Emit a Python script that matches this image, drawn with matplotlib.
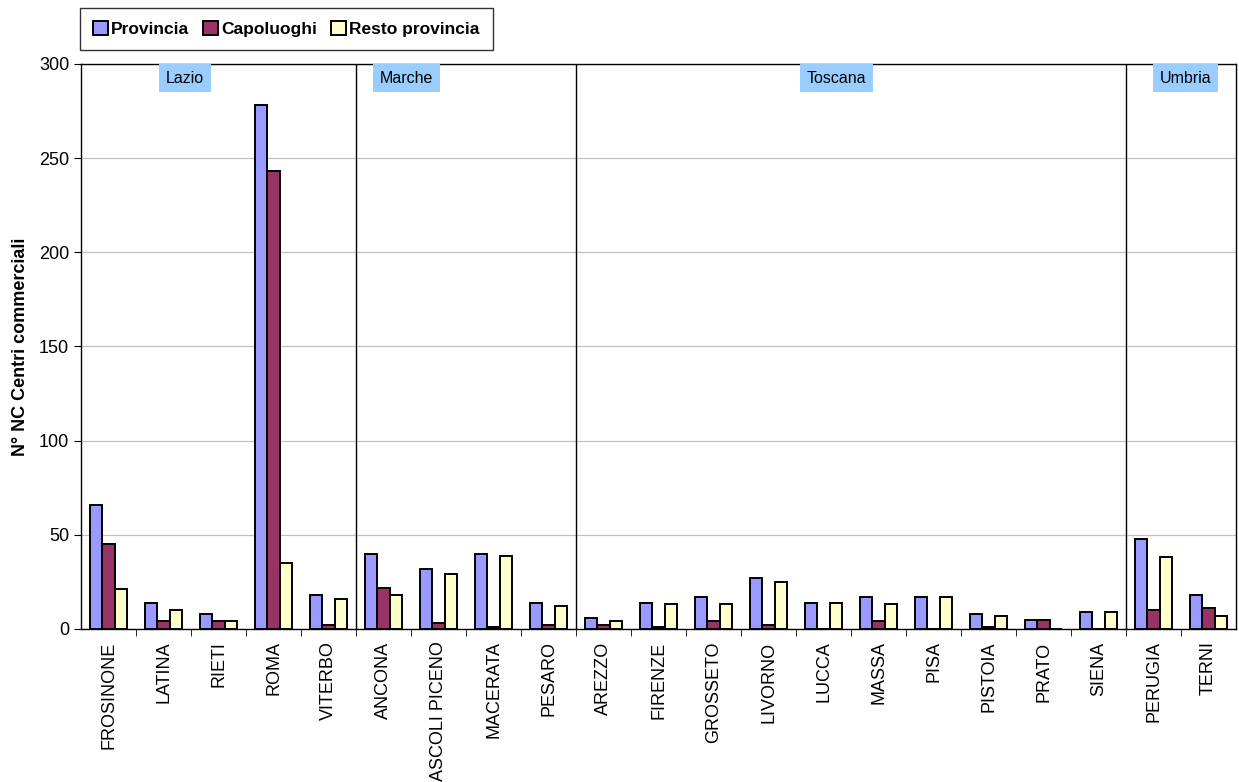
import matplotlib
matplotlib.use("Agg")
import matplotlib.pyplot as plt
import numpy as np
from matplotlib.patches import Patch

plt.rcParams["font.family"] = ["Liberation Sans", "DejaVu Sans"]

province = ["FROSINONE", "LATINA", "RIETI", "ROMA", "VITERBO",
            "ANCONA", "ASCOLI PICENO", "MACERATA", "PESARO",
            "AREZZO", "FIRENZE", "GROSSETO", "LIVORNO", "LUCCA", "MASSA",
            "PISA", "PISTOIA", "PRATO", "SIENA",
            "PERUGIA", "TERNI"]
provincia = [66, 14, 8, 278, 18, 40, 32, 40, 14, 6, 14, 17, 27, 14, 17, 17, 8, 5, 9, 48, 18]
capoluoghi = [45, 4, 4, 243, 2, 22, 3, 1, 2, 2, 1, 4, 2, 0, 4, 0, 1, 5, 0, 10, 11]
resto = [21, 10, 4, 35, 16, 18, 29, 39, 12, 4, 13, 13, 25, 14, 13, 17, 7, 0, 9, 38, 7]

regioni = ["Lazio", "Marche", "Toscana", "Umbria"]
n_per_regione = [5, 4, 10, 2]
label_pos = [1.39, 5.41, 13.23, 19.58]

series = [("Provincia", provincia, "#9999FF"),
          ("Capoluoghi", capoluoghi, "#993366"),
          ("Resto provincia", resto, "#FFFFCC")]

fig = plt.figure(figsize=(12.39, 7.82), dpi=100)
ax = fig.add_axes([0.0654, 0.1957, 0.9322, 0.7225])

x = np.arange(len(province))
w = 0.224
for i, (name, vals, col) in enumerate(series):
    ax.bar(x + (i - 1) * w, vals, w, color=col, edgecolor="black", linewidth=1.4, zorder=3)

ax.set_xlim(-0.5, len(province) - 0.5)
ax.set_ylim(0, 300)
ax.set_yticks(range(0, 301, 50))
ax.tick_params(axis="y", labelsize=13, length=5, direction="out")
ax.yaxis.grid(True, color="#c0c0c0", linewidth=0.9, zorder=0)

ax.set_xticks(x)
ax.set_xticklabels(province, rotation=90, fontsize=13)
ax.tick_params(axis="x", which="major", length=0, pad=9)
ax.set_xticks(np.arange(0.5, len(province) - 0.5, 1), minor=True)
ax.tick_params(axis="x", which="minor", length=5, direction="out")

for s in ax.spines.values():
    s.set_linewidth(1.0)

ax.set_ylabel("N° NC Centri commerciali", fontsize=13, fontweight="bold", labelpad=7)

# separatori tra le regioni
bounds = np.cumsum(n_per_regione)[:-1] - 0.5
for b in bounds:
    ax.axvline(b, color="black", linewidth=1.0, zorder=4)

for name, pos in zip(regioni, label_pos):
    ax.text(pos, 296.5, name, ha="center", va="top", fontsize=11.5,
            bbox=dict(facecolor="#99CCFF", edgecolor="none", pad=5), zorder=5)

handles = [Patch(facecolor=c, edgecolor="black", linewidth=1.4, label=n) for n, _, c in series]
leg = fig.legend(handles=handles, loc="upper left", bbox_to_anchor=(80 / 1239, 1 - 8 / 782),
                 ncol=3, frameon=True, fancybox=False, edgecolor="black",
                 prop={"weight": "bold", "size": 12.5}, handlelength=0.85, handleheight=0.85,
                 handletextpad=0.2, columnspacing=0.8, borderpad=0.75, borderaxespad=0)
leg.get_frame().set_linewidth(1.0)

fig.savefig("out.png", dpi=100)
